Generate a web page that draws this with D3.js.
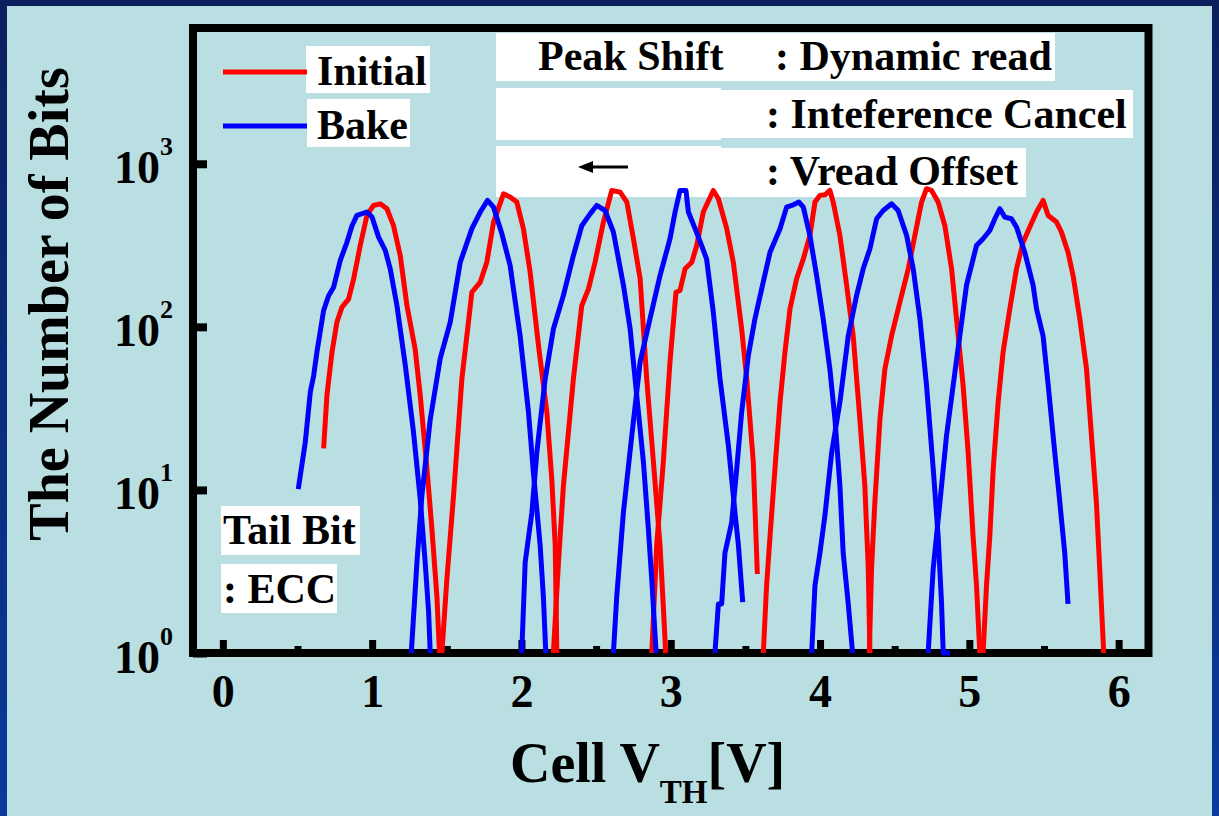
<!DOCTYPE html>
<html><head><meta charset="utf-8">
<script src="https://cdn.jsdelivr.net/npm/d3@7"></script>
<style>
body{margin:0;background:#b9dfe2}
svg{display:block}
text{font-family:"Liberation Serif","Times New Roman",serif;font-weight:bold;fill:#000}
</style>
</head><body><svg id="c" width="1219" height="816"></svg>
<script>
// ---- data: [Vth (V), number of bits] ----
const initial1=[[0.675,18],[0.697,38],[0.731,70],[0.764,107],[0.798,132],[0.842,148],[0.876,197],[0.920,315],[0.965,482],[1.009,555],[1.054,568],[1.099,530],[1.143,417],[1.188,274],[1.233,135],[1.288,73],[1.322,38],[1.367,13.5],[1.400,5.8],[1.434,2.2],[1.451,1]];
const initial2=[[1.467,1],[1.500,2.8],[1.545,9.2],[1.601,48],[1.668,163],[1.724,188],[1.768,249],[1.813,439],[1.880,654],[1.924,625],[1.969,582],[2.013,400],[2.058,217],[2.114,77],[2.170,30],[2.203,11.7],[2.226,4.6],[2.237,1]];
const initial3=[[2.214,1],[2.248,3.6],[2.281,10.6],[2.348,48],[2.404,135],[2.449,171],[2.493,249],[2.549,439],[2.605,686],[2.661,670],[2.706,582],[2.750,347],[2.795,197],[2.839,48],[2.884,14.8],[2.928,4.6],[2.950,1.95],[2.966,1]];
const initial4=[[2.873,1],[2.906,4.6],[2.950,14.8],[2.995,61],[3.035,163],[3.062,167],[3.096,227],[3.141,249],[3.174,315],[3.218,506],[3.285,686],[3.319,610],[3.375,400],[3.419,249],[3.475,97],[3.509,48],[3.553,14.8],[3.580,3.05]];
const initial5=[[3.620,1],[3.642,2.6],[3.665,5.2],[3.698,13.5],[3.732,34.5],[3.765,70],[3.799,129],[3.843,197],[3.888,261],[3.932,363],[3.966,582],[3.999,640],[4.033,645],[4.066,686],[4.088,582],[4.133,363],[4.178,180],[4.222,88],[4.267,27],[4.300,10.6],[4.323,3.3],[4.334,1]];
const initial6=[[4.330,1],[4.345,3.3],[4.367,8.4],[4.401,27],[4.434,55],[4.479,88],[4.535,142],[4.591,227],[4.635,363],[4.680,582],[4.713,703],[4.747,686],[4.791,582],[4.836,417],[4.881,227],[4.914,112],[4.958,44],[4.992,17],[5.025,5.2],[5.048,2.6],[5.070,1]];
const initial7=[[5.092,1],[5.115,2.6],[5.137,5.2],[5.160,13.5],[5.193,34.5],[5.226,70],[5.271,129],[5.316,227],[5.360,330],[5.405,409],[5.450,506],[5.494,596],[5.528,482],[5.584,439],[5.617,381],[5.661,287],[5.695,206],[5.740,112],[5.785,55],[5.818,21.5],[5.851,8.4],[5.873,3.3],[5.900,1]];

const bake1=[[0.505,10.1],[0.552,19.6],[0.586,40],[0.608,50],[0.630,70],[0.675,126],[0.708,155],[0.742,175],[0.786,255],[0.831,330],[0.865,417],[0.898,482],[0.965,506],[0.999,471],[1.043,355],[1.088,294],[1.121,227],[1.166,135],[1.222,58],[1.277,22.6],[1.322,8.8],[1.355,3.6],[1.378,1.8],[1.389,1]];
const bake2=[[1.262,1],[1.300,3.6],[1.333,9.2],[1.389,27],[1.456,64],[1.523,107],[1.590,249],[1.668,400],[1.724,506],[1.773,596],[1.813,542],[1.869,372],[1.924,238],[1.991,88],[2.047,30],[2.080,12.8],[2.125,4.6],[2.147,2.2],[2.163,1]];
const bake3=[[2.002,1],[2.025,3.6],[2.070,7.3],[2.103,17],[2.159,48],[2.214,97],[2.281,156],[2.348,274],[2.404,417],[2.460,493],[2.504,555],[2.560,517],[2.616,381],[2.683,180],[2.728,97],[2.772,38],[2.817,14.8],[2.850,5.8],[2.873,2.8],[2.902,1]];
const bake4=[[2.616,1],[2.638,2.2],[2.683,7.3],[2.739,21.5],[2.795,61],[2.861,112],[2.928,206],[2.995,347],[3.029,506],[3.062,686],[3.102,686],[3.118,506],[3.163,400],[3.207,315],[3.240,261],[3.285,123],[3.330,48],[3.386,18.7],[3.430,7.3],[3.453,4.6],[3.482,2.05]];
const bake5=[[3.296,1],[3.319,2],[3.341,2],[3.363,4.1],[3.408,6.3],[3.442,13.5],[3.475,30],[3.520,67],[3.564,112],[3.609,171],[3.665,287],[3.732,400],[3.776,542],[3.821,560],[3.859,582],[3.888,542],[3.932,363],[3.977,206],[4.021,112],[4.066,55],[4.100,27],[4.133,10.6],[4.155,4.1],[4.189,2],[4.218,1]];
const bake6=[[3.944,1],[3.966,2.6],[3.999,4.1],[4.033,7],[4.078,17],[4.133,34.5],[4.189,88],[4.245,156],[4.289,227],[4.334,301],[4.379,460],[4.423,517],[4.479,568],[4.523,517],[4.580,363],[4.624,227],[4.669,112],[4.713,44],[4.758,13.5],[4.791,5.2],[4.814,2],[4.825,1],[4.870,1]];
const bake7=[[4.724,1],[4.758,3.3],[4.803,8.4],[4.847,21.5],[4.892,44],[4.936,88],[4.981,180],[5.048,315],[5.092,347],[5.137,390],[5.171,460],[5.204,530],[5.237,471],[5.282,460],[5.316,409],[5.371,287],[5.427,180],[5.450,129],[5.494,88],[5.528,44],[5.572,17],[5.606,8.4],[5.639,4.1],[5.661,2]];

const initialSeries=[initial1,initial2,initial3,initial4,initial5,initial6,initial7];
const bakeSeries=[bake1,bake2,bake3,bake4,bake5,bake6,bake7];

const xTicks=[0,1,2,3,4,5,6];
const xMinorTicks=[0.5,1.5,2.5,3.5,4.5,5.5];
const yTicks=[1,10,100,1000];
const yTickExponents=["0","1","2","3"];
const legendLabels=["Initial","Bake"];

// ---- drawing ----
const svg=d3.select("#c");
const defs=svg.append("defs");
const gr=defs.append("linearGradient").attr("id","nav").attr("x1",0).attr("y1",0).attr("x2",0).attr("y2",1);
gr.append("stop").attr("offset","0").attr("stop-color","#0b1f5c");
gr.append("stop").attr("offset","1").attr("stop-color","#0a3a9c");
svg.append("rect").attr("width",1219).attr("height",816).attr("fill","url(#nav)");
svg.append("rect").attr("x",7).attr("y",6).attr("width",1205).attr("height",810).attr("fill","#b9dfe2");

const x=d3.scaleLinear().domain([-0.2,6.2]).range([193,1148.5]);
const y=d3.scaleLog().domain([1,6800]).range([653,28]);

// annotation white boxes
const boxes=[[496,33,559,48],[496,88,225,52],[721,90,412,48],[496,146,225,51],[721,148,305,49],
             [306,46,124,47],[307,99,103,48],[221,506,139,49],[221,564,116,49]];
svg.append("g").selectAll("rect").data(boxes).join("rect")
  .attr("x",d=>d[0]).attr("y",d=>d[1]).attr("width",d=>d[2]).attr("height",d=>d[3]).attr("fill","#fff");

const ann=[["Peak Shift",538,70],[": Dynamic read",775,70],[": Inteference Cancel",766,128],[": Vread Offset",766,185],
           ["Tail Bit",223,544],[": ECC",223,603]];
svg.append("g").selectAll("text").data(ann).join("text")
  .attr("x",d=>d[1]).attr("y",d=>d[2]).attr("font-size",42).text(d=>d[0]);

// arrow
svg.append("line").attr("x1",628).attr("y1",167).attr("x2",588).attr("y2",167).attr("stroke","#000").attr("stroke-width",3);
svg.append("path").attr("d","M578,167L593,161L593,173Z").attr("fill","#000");

// legend
const legColors=["#ff0000","#0000ff"];
const leg=svg.append("g");
legendLabels.forEach((l,i)=>{
  const ly=72+i*54;
  leg.append("line").attr("x1",223).attr("x2",307).attr("y1",ly).attr("y2",ly).attr("stroke",legColors[i]).attr("stroke-width",5);
  leg.append("text").attr("x",317).attr("y",ly+13).attr("font-size",42).text(l);
});

// axes ticks
const tickStyle=g=>{g.select(".domain").remove();g.selectAll(".tick line").attr("stroke","#000").attr("stroke-width",7);};
svg.append("g").attr("transform","translate(0,653)")
  .call(d3.axisBottom(x).tickValues(xMinorTicks).tickSize(-7).tickFormat(""))
  .call(tickStyle);
const xa=svg.append("g").attr("transform","translate(0,653)")
  .call(d3.axisBottom(x).tickValues(xTicks).tickSize(-13).tickFormat(d3.format("d")))
  .call(tickStyle);
xa.selectAll(".tick text").attr("y",54).attr("dy",null).attr("font-size",46)
  .attr("font-family","Liberation Serif, Times New Roman, serif").attr("font-weight","bold").attr("fill","#000");

const ya=svg.append("g").attr("transform","translate(193,0)")
  .call(d3.axisLeft(y).tickValues(yTicks).tickSize(-14).tickFormat(""))
  .call(tickStyle);
ya.selectAll(".tick line").attr("stroke-width",8);
ya.selectAll(".tick").each(function(d,i){
  const t=d3.select(this).append("text").attr("x",-79).attr("y",19).attr("text-anchor","start")
    .attr("font-size",46).attr("font-family","Liberation Serif, Times New Roman, serif").attr("font-weight","bold").attr("fill","#000");
  t.append("tspan").text("10");
  t.append("tspan").attr("dy",-28).attr("font-size",26).text(yTickExponents[i]);
});

// frame
svg.append("rect").attr("x",193).attr("y",28).attr("width",955.5).attr("height",625)
  .attr("fill","none").attr("stroke","#000").attr("stroke-width",8);

// curves
const line=d3.line().x(d=>x(d[0])).y(d=>y(d[1]));
svg.append("g").selectAll("path").data(initialSeries).join("path")
  .attr("d",line).attr("fill","none").attr("stroke","#ff0000").attr("stroke-width",5).attr("stroke-linejoin","round");
svg.append("g").selectAll("path").data(bakeSeries).join("path")
  .attr("d",line).attr("fill","none").attr("stroke","#0000ff").attr("stroke-width",5).attr("stroke-linejoin","round");

// axis titles
svg.append("text").attr("transform","translate(68,304) rotate(-90)").attr("text-anchor","middle")
  .attr("font-size",56).text("The Number of Bits");
const xt=svg.append("text").attr("x",510).attr("y",782).attr("font-size",56);
xt.append("tspan").text("Cell V");
xt.append("tspan").attr("dy",21).attr("font-size",33).text("TH");
xt.append("tspan").attr("dy",-21).text("[V]");
</script>
</body></html>
